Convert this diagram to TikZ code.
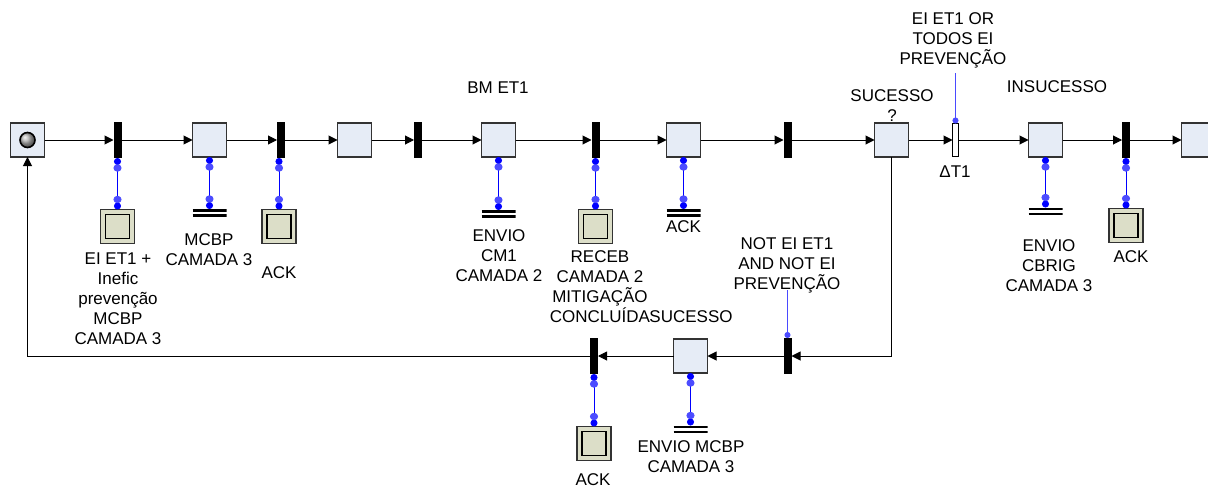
\documentclass[tikz,border=0pt]{standalone}
\usepackage{fontspec}
\setmainfont{Liberation Sans}
\usetikzlibrary{arrows.meta,decorations.markings}
\definecolor{placefill}{HTML}{E6ECF6}
\definecolor{resfill}{HTML}{DCDEC8}
\definecolor{bord}{HTML}{333333}
\definecolor{dep}{HTML}{0000FF}
\definecolor{condblue}{HTML}{4A4AFF}
\begin{document}
\begin{tikzpicture}[x=1pt,y=-1pt,
 >={Triangle[length=9pt,width=9pt]},
 place/.style={draw=bord, fill=placefill, line width=1.3pt, minimum size=34pt, inner sep=0pt, outer sep=0pt},
 tbar/.style={fill=black, minimum width=8pt, minimum height=36pt, inner sep=0pt, outer sep=0pt},
 wbar/.style={draw=black, fill=white, line width=1pt, minimum width=6pt, minimum height=33pt, inner sep=0pt, outer sep=0pt},
 dbox/.style={draw=bord, fill=resfill, line width=1.3pt, minimum size=34pt, inner sep=0pt, outer sep=0pt,
   path picture={\draw[line width=1.5pt, draw=black] ([xshift=-12pt,yshift=-12pt]path picture bounding box.center) rectangle ([xshift=12pt,yshift=12pt]path picture bounding box.center);}},
 dline/.style={minimum width=34pt, minimum height=8pt, inner sep=0pt, outer sep=0pt,
   path picture={\draw[line width=2.2pt] ([yshift=-1.5pt]path picture bounding box.north west) -- ([yshift=-1.5pt]path picture bounding box.north east);
                 \draw[line width=2.2pt] ([yshift=1.5pt]path picture bounding box.south west) -- ([yshift=1.5pt]path picture bounding box.south east);}},
 flow/.style={draw=black, line width=1pt, ->},
 depline/.style={draw=dep, line width=0.9pt, {Circle[length=7pt]}-{Circle[length=7pt]},
   postaction={decorate},
   decoration={markings,
     mark=at position 10pt with {\draw[dep!70, line width=0.8pt] (0,-4pt) -- (0,4pt);},
     mark=at position -10pt with {\draw[dep!70, line width=0.8pt] (0,-4pt) -- (0,4pt);}}},
 cond/.style={draw=condblue, line width=0.9pt, -{Circle[length=6pt]}},
 lbl/.style={font=\fontsize{17}{20}\selectfont, align=center, inner sep=0pt}
]
\useasboundingbox (0,0) rectangle (1208,490);
% top row
\node[place] (start) at (27.5,140) {};
\shade[ball color=gray!60] (start.center) circle (7.5pt);
\draw[line width=1.6pt] (start.center) circle (7.5pt);
\node[tbar]  (t1) at (117.5,140) {};
\node[place] (p2) at (209.5,140) {};
\node[tbar]  (t2) at (281,140) {};
\node[place] (p3) at (354.5,140) {};
\node[tbar]  (t3) at (418,140) {};
\node[place] (p4) at (498.5,140) {};
\node[tbar]  (t4) at (595.5,140) {};
\node[place] (p5) at (683.5,140) {};
\node[tbar]  (t5) at (787.5,140) {};
\node[place] (p6) at (891.5,140) {};
\node[wbar]  (tw) at (955.5,140) {};
\node[place] (p7) at (1045.5,140) {};
\node[tbar]  (t7) at (1126,140) {};
\node[place] (p8) at (1198.5,140) {};
% bottom row
\node[tbar]  (b1) at (787.5,356) {};
\node[place] (b2) at (690.5,356) {};
\node[tbar]  (b3) at (594,356) {};
% dependents
\node[dbox]  (d1) at (117.5,226.5) {};
\node[dline] (d2) at (209.5,213) {};
\node[dbox]  (d3) at (279,226.5) {};
\node[dline] (d4) at (498.5,214) {};
\node[dbox]  (d5) at (595.5,226.5) {};
\node[dline] (d6) at (683.5,213) {};
\node[dline] (d7) at (1045.5,211.5) {};
\node[dbox]  (d8) at (1126,225.5) {};
\node[dbox]  (d9) at (594,443.5) {};
\node[dline] (d10) at (690.5,429.5) {};
% flow connectors
\foreach \a/\b in {start/t1,t1/p2,p2/t2,t2/p3,p3/t3,t3/p4,p4/t4,t4/p5,p5/t5,t5/p6,p6/tw,tw/p7,p7/t7,t7/p8,b1/b2,b2/b3}
  \draw[flow] (\a) -- (\b);
\draw[flow] (p6.south) |- (b1.east);
\draw[flow] (b3.west) -| (start.south);
% dependency connectors
\draw[depline] (t1.south) -- (d1.north);
\draw[depline] (p2.south) -- (d2.north);
\draw[depline] (t2.south -| d3.north) -- (d3.north);
\draw[depline] (p4.south) -- (d4.north);
\draw[depline] (t4.south) -- (d5.north);
\draw[depline] (p5.south) -- (d6.north);
\draw[depline] (p7.south) -- (d7.north);
\draw[depline] (t7.south) -- (d8.north);
\draw[depline] (b3.south) -- (d9.north);
\draw[depline] (b2.south) -- (d10.north);
% condition lines
\coordinate (c1) at (955.5,73);
\coordinate (c2) at (787.5,290);
\draw[cond] (c1) -- (tw.north);
\draw[cond] (c2) -- (b1.north);
% labels
\node[lbl] (l1) at (118,298.5) {EI ET1 +\\Inefic\\prevenção\\MCBP\\CAMADA 3};
\node[lbl] (l2) at (209,249.5) {MCBP\\CAMADA 3};
\node[lbl] (l3) at (279,273) {ACK};
\node[lbl] (l4) at (498,88) {BM ET1};
\node[lbl] (l5) at (499,256) {ENVIO\\CM1\\CAMADA 2};
\node[lbl] (l6) at (600,287) {RECEB\\CAMADA 2\\MITIGAÇÃO\\CONCLUÍDA};
\node[lbl] (l7) at (691,317) {SUCESSO};
\node[lbl] (l8) at (683.5,227) {ACK};
\node[lbl] (l9) at (787,265) {NOT EI ET1\\AND NOT EI\\PREVENÇÃO};
\node[lbl] (l10) at (892,105.5) {SUCESSO\\?};
\node[lbl] (l11) at (953,40) {EI ET1 OR\\TODOS EI\\PREVENÇÃO};
\node[lbl] (l12) at (955,172) {ΔT1};
\node[lbl] (l13) at (1057,87) {INSUCESSO};
\node[lbl] (l14) at (1049,265.5) {ENVIO\\CBRIG\\CAMADA 3};
\node[lbl] (l15) at (1131,257) {ACK};
\node[lbl] (l16) at (691,456.5) {ENVIO MCBP\\CAMADA 3};
\node[lbl] (l17) at (593,480) {ACK};
\end{tikzpicture}
\end{document}
